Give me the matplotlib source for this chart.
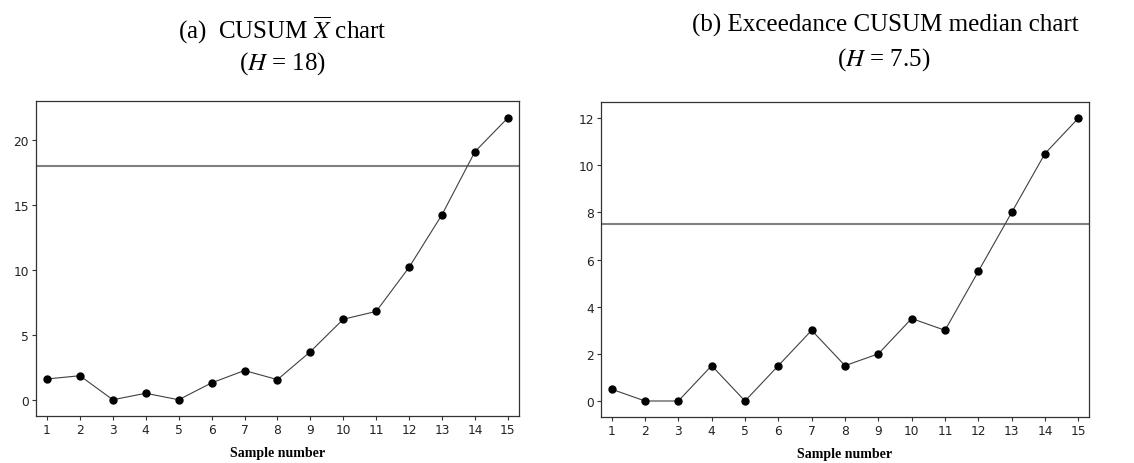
import matplotlib
matplotlib.use("Agg")
import matplotlib.pyplot as plt

# data
samples = list(range(1, 16))
cusum_xbar = [1.6, 1.85, 0.0, 0.5, 0.0, 1.3, 2.25, 1.55, 3.7, 6.2, 6.8, 10.2, 14.25, 19.1, 21.7]
cusum_median = [0.5, 0.0, 0.0, 1.5, 0.0, 1.5, 3.0, 1.5, 2.0, 3.5, 3.0, 5.5, 8.0, 10.5, 12.0]
h_xbar = 18
h_median = 7.5
yticks_a = [0, 5, 10, 15, 20]
yticks_b = [0, 2, 4, 6, 8, 10, 12]

plt.rcParams['mathtext.fontset'] = 'stix'

fig = plt.figure(figsize=(11.34, 4.64), dpi=100)
ax1 = fig.add_axes([0.0317, 0.1013, 0.4259, 0.679])
ax2 = fig.add_axes([0.530, 0.0991, 0.4303, 0.679])


def draw(ax, y, h, yticks, xlim, ylim):
    ax.axhline(h, color='#808080', lw=1.5, zorder=1)
    ax.plot(samples, y, color='#404040', lw=0.8, marker='o', ms=5,
            mfc='black', mec='black', zorder=2)
    ax.set_xlim(*xlim)
    ax.set_ylim(*ylim)
    ax.set_xticks(samples)
    ax.set_yticks(yticks)
    ax.tick_params(labelsize=8.8, length=3, width=0.8, colors='#333333',
                   labelcolor='#222222', pad=2)
    for s in ax.spines.values():
        s.set_color('#333333')
        s.set_linewidth(0.9)
    ax.set_xlabel('Sample number', family='Liberation Serif', fontweight='bold',
                  fontsize=10, labelpad=7)


draw(ax1, cusum_xbar, h_xbar, yticks_a, (0.665, 15.335), (-1.25, 23.0))
draw(ax2, cusum_median, h_median, yticks_b, (0.68, 15.32), (-0.68, 12.69))

fig.text(0.249, 0.935, r'(a)  CUSUM $\overline{X}$ chart', ha='center', va='center',
         family='Liberation Serif', fontsize=18)
fig.text(0.249, 0.864, r'($H$ = 18)', ha='center', va='center',
         family='Liberation Serif', fontsize=18)
fig.text(0.781, 0.946, '(b) Exceedance CUSUM median chart', ha='center', va='center',
         family='Liberation Serif', fontsize=18)
fig.text(0.779, 0.871, r'($H$ = 7.5)', ha='center', va='center',
         family='Liberation Serif', fontsize=18)

fig.savefig('out.png', dpi=100)
